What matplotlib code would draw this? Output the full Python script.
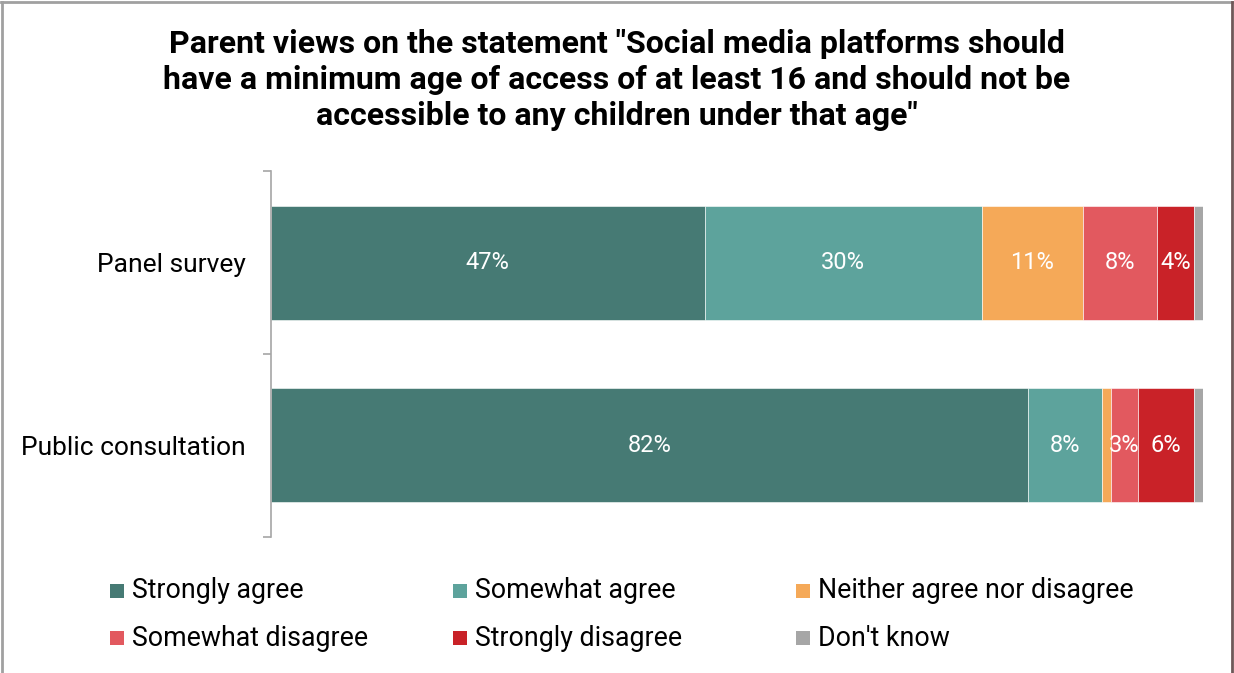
import matplotlib.pyplot as plt
from matplotlib.patches import Rectangle
from matplotlib.lines import Line2D

plt.rcParams['font.family'] = ['Roboto', 'DejaVu Sans']

groups = ['Panel survey', 'Public consultation']
responses = ['Strongly agree', 'Somewhat agree', 'Neither agree nor disagree',
             'Somewhat disagree', 'Strongly disagree', "Don't know"]
panel = [47, 30, 11, 8, 4, 1]
public = [82, 8, 1, 3, 6, 1]
colors = ['#467a74', '#5da39c', '#f5a958', '#e2595f', '#c92228', '#a6a6a6']

W, H = 1234, 673
fig = plt.figure(figsize=(W / 100, H / 100), dpi=100)
ax = fig.add_axes([0.2196, 0.2021, 0.7553, 0.5438])

data = [panel, public]
for i, vals in enumerate(data):
    left = 0
    for j, v in enumerate(vals):
        ax.barh(i, v, left=left, height=0.623, color=colors[j],
                edgecolor='white', linewidth=0.4)
        if v >= 2:
            ax.text(left + v / 2, i, f'{v}%', ha='center', va='center',
                    color='white', fontsize=17)
        left += v

ax.set_xlim(0, 101)
ax.set_ylim(1.5, -0.5)
ax.set_yticks([0, 1])
ax.set_yticklabels(groups, fontsize=19)
ax.set_yticks([-0.5, 0.5, 1.5], minor=True)
ax.tick_params(axis='y', which='major', length=0, pad=18)
ax.tick_params(axis='y', which='minor', length=6, color='#a6a6a6', width=1.2)
ax.set_xticks([])
for s in ['top', 'right', 'bottom']:
    ax.spines[s].set_visible(False)
ax.spines['left'].set_color('#a6a6a6')
ax.spines['left'].set_linewidth(1.2)

fig.text(0.5, 1 - 29 / H,
         'Parent views on the statement "Social media platforms should\n'
         'have a minimum age of access of at least 16 and should not be\n'
         'accessible to any children under that age"',
         ha='center', va='top', fontsize=23, fontweight='bold',
         linespacing=1.24)

# legend: three columns, two rows, square swatches
for k, (name, c) in enumerate(zip(responses, colors)):
    row, col = divmod(k, 3)
    x = 110 + col * 343
    y = 591 + row * 47
    fig.add_artist(Rectangle((x / W, 1 - (y + 7) / H), 14 / W, 14 / H,
                             facecolor=c, edgecolor='none',
                             transform=fig.transFigure))
    fig.text((x + 22) / W, 1 - y / H, name, ha='left', va='center',
             fontsize=19.3)

# frame around the figure
fig.add_artist(Line2D([0.001, 0.999], [0.997, 0.997], color='#a0a0a0',
                      lw=2, transform=fig.transFigure))
fig.add_artist(Line2D([0.002, 0.002], [0, 0.997], color='#a0a0a0',
                      lw=2, transform=fig.transFigure))
fig.add_artist(Line2D([0.9985, 0.9985], [0, 0.997], color='#6e5858',
                      lw=2, transform=fig.transFigure))

fig.savefig('out.png', dpi=100)
